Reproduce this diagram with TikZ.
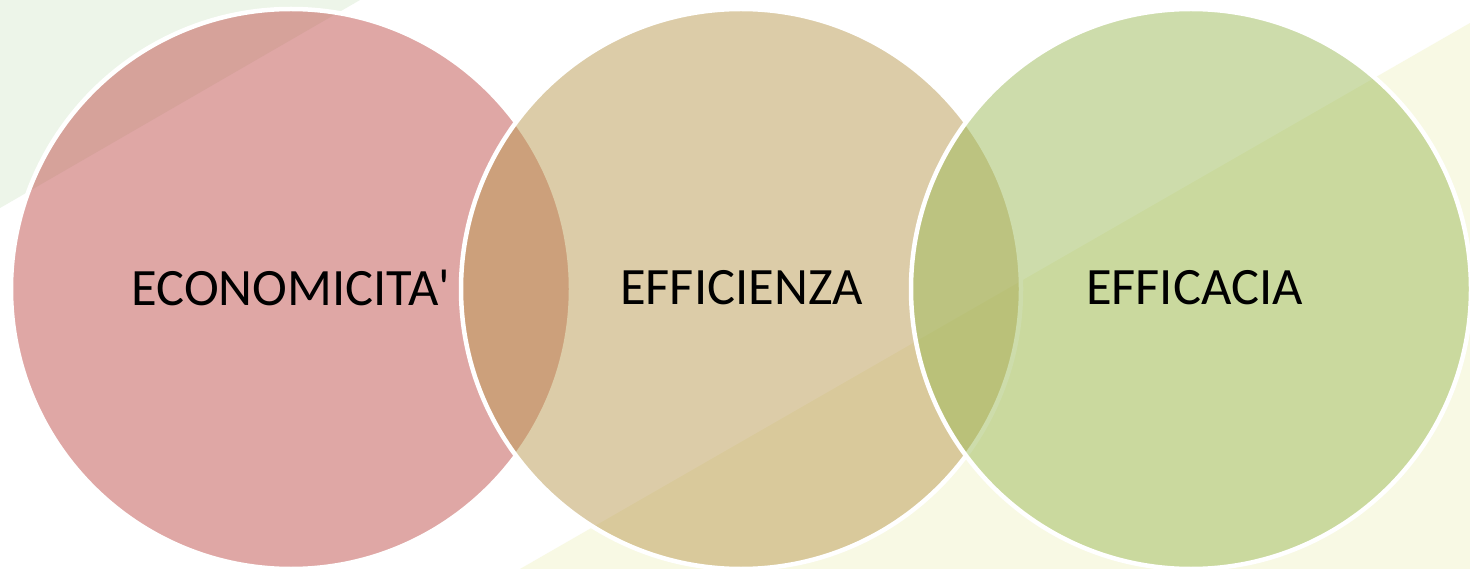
\documentclass[tikz,border=0pt]{standalone}
\usepackage{fontspec}
\setmainfont{Carlito}[Ligatures=TeXOff]
\definecolor{cred}{RGB}{192,80,77}
\definecolor{ctan}{RGB}{187,155,83}
\definecolor{cgreen}{RGB}{157,187,89}
\definecolor{bggreen}{RGB}{237,245,233}
\definecolor{bgyellow}{RGB}{248,249,228}
\begin{document}
\begin{tikzpicture}[x=1pt,y=-1pt,
  venn/.style={draw=white, line width=4.5pt, fill opacity=0.5},
  lbl/.style={font=\fontsize{52.5}{60}\selectfont, text=black, inner sep=0pt}]
\useasboundingbox (0,0) rectangle (1470,569);
\fill[white] (0,0) rectangle (1470,569);
% background triangles
\fill[bggreen] (0,0) -- (360,0) -- (0,208) -- cycle;
\fill[bgyellow] (520,569) -- (1470,23) -- (1470,569) -- cycle;
% circles
\path[venn, fill=cred] (291,289) circle[radius=280];
\path[venn, fill=ctan] (741,289) circle[radius=280];
\path[venn, fill=cgreen] (1191,289) circle[radius=280];
% labels
\node[lbl] (econ) at (291,288) {ECONOMICITA'};
\node[lbl] (effi) at (741.5,288) {EFFICIENZA};
\node[lbl] (effa) at (1194.5,288) {EFFICACIA};
\end{tikzpicture}
\end{document}
